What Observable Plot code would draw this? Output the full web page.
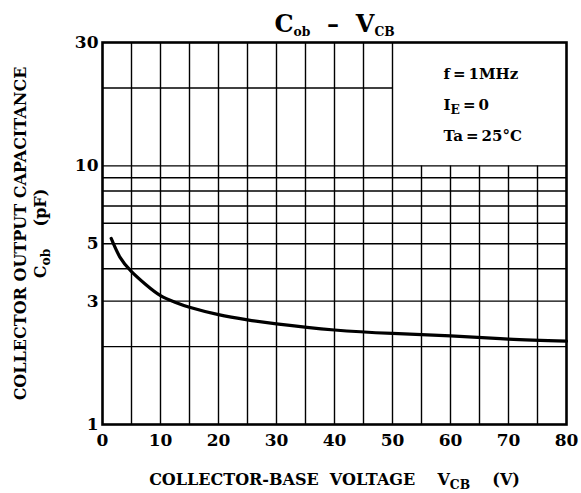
<!DOCTYPE html>
<html>
<head>
<meta charset="utf-8">
<script src="https://cdn.jsdelivr.net/npm/d3@7"></script>
<script src="https://cdn.jsdelivr.net/npm/@observablehq/plot@0.6"></script>
<style>
  html, body { margin: 0; padding: 0; background: #fff; }
  #chart svg { display: block; }
  #chart svg text { font-family: "DejaVu Serif", serif; font-weight: bold; }
</style>
</head>
<body>
<div id="chart"></div>
<script>
// ---- data ----
const volts = [1.5, 3, 5, 7.5, 10, 12.5, 15, 20, 25, 30, 40, 50, 60, 70, 80];
const cob   = [5.24, 4.44, 3.9, 3.47, 3.15, 2.97, 2.84, 2.66, 2.54, 2.45, 2.32, 2.25, 2.2, 2.14, 2.1];
const xTicks = [0, 10, 20, 30, 40, 50, 60, 70, 80];
const yTicks = [1, 3, 5, 10, 30];
const gridX = [5, 10, 15, 20, 25, 30, 35, 40, 45, 50, 55, 60, 65, 70, 75];
const gridY = [2, 3, 4, 5, 6, 7, 8, 9, 10, 20];
const legendLines = ["f\u2009=\u20091MHz", "I_{E}\u2009=\u20090", "Ta\u2009=\u200925°C"];
const titleText = "C_{ob}  –  V_{CB}";
const xLabel = "COLLECTOR-BASE  VOLTAGE    V_{CB}    (V)";
const yLabel1 = "COLLECTOR OUTPUT CAPACITANCE";
const yLabel2 = "C_{ob}    (pF)";

const curve = volts.map((v, i) => ({v, c: cob[i]}));
const boxX = 50, boxY = 10; // legend box corner (grid stops there)

const font = {fontFamily: "DejaVu Serif", fontWeight: "bold", fill: "black"};

const chart = Plot.plot({
  width: 581,
  height: 493,
  marginTop: 42,
  marginLeft: 102,
  marginRight: 15,
  marginBottom: 69,
  style: {fontFamily: "DejaVu Serif", fontWeight: "bold", color: "black", background: "white"},
  x: {domain: [0, 80]},
  y: {type: "log", domain: [1, 30]},
  marks: [
    Plot.ruleX(gridX, {x: d => d, y1: 1, y2: d => d <= boxX ? 30 : boxY, stroke: "black", strokeWidth: 1.4}),
    Plot.ruleY(gridY, {y: d => d, x1: 0, x2: d => d > boxY ? boxX : 80, stroke: "black", strokeWidth: 1.4}),
    Plot.frame({stroke: "black", strokeWidth: 2.6}),
    Plot.line(curve, {x: "v", y: "c", curve: "natural", stroke: "black", strokeWidth: 3.2}),
    Plot.axisX({ticks: xTicks, tickSize: 0, tickPadding: 9, fontSize: 17, label: null, tickFormat: d => String(d), ...font}),
    Plot.axisY({ticks: yTicks, tickSize: 0, tickPadding: 4, fontSize: 17, label: null, tickFormat: d => String(d), ...font}),
    Plot.text([titleText], {text: d => d, frameAnchor: "top", dy: -11, lineAnchor: "bottom", fontSize: 24, ...font}),
    Plot.text([xLabel], {text: d => d, frameAnchor: "bottom", dy: 60, lineAnchor: "bottom", fontSize: 16, ...font}),
    Plot.text([yLabel1], {text: d => d, frameAnchor: "left", textAnchor: "middle", dx: -82, rotate: -90, lineAnchor: "middle", fontSize: 16, ...font}),
    Plot.text([yLabel2], {text: d => d, frameAnchor: "left", textAnchor: "middle", dx: -62, rotate: -90, lineAnchor: "middle", fontSize: 16, ...font}),
    ...legendLines.map((t, i) =>
      Plot.text([t], {text: d => d, frameAnchor: "top-right", textAnchor: "start", dx: -123, dy: [36, 67, 98][i], lineAnchor: "bottom", fontSize: 15, ...font}))
  ]
});

// subscripts: "X_{sub}" -> tspans
d3.select(chart).selectAll("text").each(function() {
  const str = this.textContent;
  if (!str.includes("_{")) return;
  const fs = parseFloat(this.getAttribute("font-size") || getComputedStyle(this).fontSize) || 15;
  const shift = fs * 0.28;
  const el = d3.select(this);
  el.text(null);
  const re = /_\{(.*?)\}/g;
  let last = 0, m, pending = 0;
  while ((m = re.exec(str)) !== null) {
    const before = str.slice(last, m.index);
    if (before) el.append("tspan").attr("dy", pending ? -pending : null).text(before);
    el.append("tspan").attr("dy", shift).attr("font-size", fs * 0.82).text(m[1]);
    pending = shift;
    last = re.lastIndex;
  }
  const rest = str.slice(last);
  if (rest) el.append("tspan").attr("dy", pending ? -pending : null).text(rest);
});

document.getElementById("chart").appendChild(chart);
</script>
</body>
</html>
